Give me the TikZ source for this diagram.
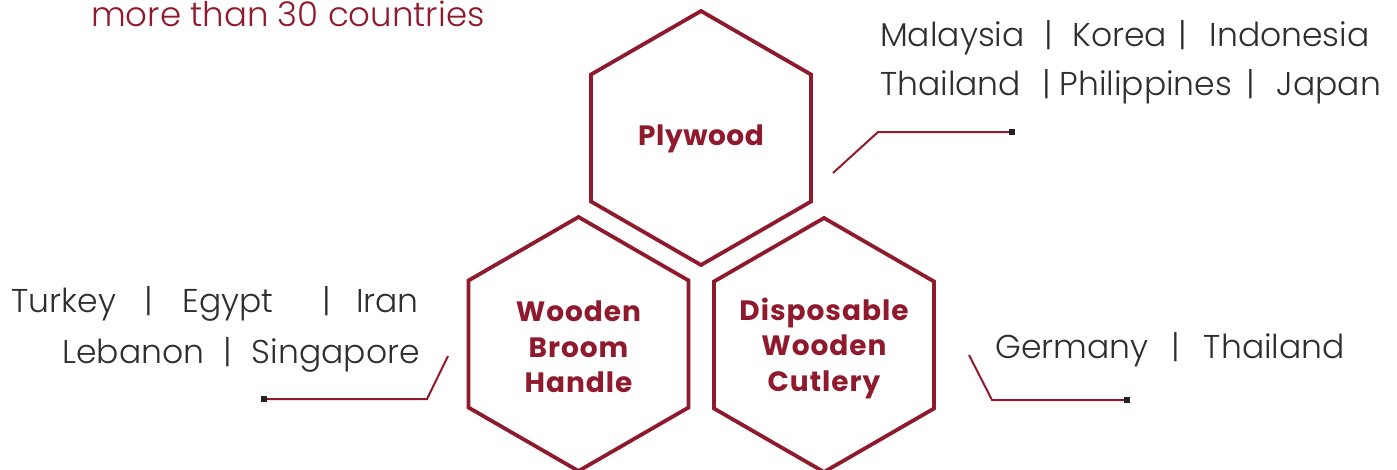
\documentclass[tikz,border=0pt]{standalone}
\usepackage{fontspec}
\IfFontExistsTF{Poppins Light}{\setmainfont{Poppins}[UprightFont={* Light},BoldFont={* Bold}]}{\setmainfont{Poppins}}
\usetikzlibrary{shapes.geometric}
\definecolor{wine}{HTML}{901A2D}
\definecolor{txtgray}{HTML}{2E2E2E}
\definecolor{sqcol}{HTML}{222222}
\newcommand{\barsep}[2]{\hspace{#1pt}|\hspace{#2pt}}
\begin{document}
\begin{tikzpicture}[x=1pt,y=-1pt,
  hex/.style={regular polygon, regular polygon sides=6, shape border rotate=30,
    minimum size=254pt, inner sep=0pt, draw=wine, line width=3.8pt},
  hexlabel/.style={text=wine, inner sep=0pt, align=center,
    font=\bfseries\fontsize{28}{35.5}\selectfont\addfontfeatures{LetterSpace=3.5}},
  country/.style={text=txtgray, font=\fontsize{33}{40}\selectfont, inner sep=0pt},
  conn/.style={draw=wine, line width=2pt},
  endsq/.style={rectangle, fill=sqcol, minimum size=6pt, inner sep=0pt}]
\useasboundingbox (0,0) rectangle (1397,469);
% headline
\node[anchor=base west, text=wine, font=\fontsize{34}{40}\selectfont, inner sep=0pt] (head) at (91,26) {more than 30 countries};
% hexagons
\node[hex] (ply) at (701,138) {};
\node[hex] (broom) at (578.5,344) {};
\node[hex] (cut) at (824,345) {};
\node[hexlabel, font=\bfseries\fontsize{28}{35.5}\selectfont\addfontfeatures{LetterSpace=2}] (plyt) at ([yshift=-1pt]ply.center) {Plywood};
\node[hexlabel] (broomt) at ([yshift=-3pt]broom.center) {Wooden\\Broom\\Handle};
\node[hexlabel] (cutt) at ([yshift=-3pt]cut.center) {Disposable\\Wooden\\Cutlery};
% country lists
\node[country, anchor=base west] (asia1) at (880,46) {Malaysia\barsep{19.5}{19.5}Korea\barsep{11.5}{22.5}Indonesia};
\node[country, anchor=base west] (asia2) at (880,95) {Thailand\barsep{21}{9}Philippines\barsep{14}{22}Japan};
\node[country, anchor=base east] (mid1) at (419,312) {Turkey\barsep{29}{29}Egypt\barsep{49}{25}Iran};
\node[country, anchor=base east] (mid2) at (420,363) {Lebanon\barsep{19}{20}Singapore};
\node[country, anchor=base west] (eu) at (995,358) {Germany\barsep{23.5}{23.5}Thailand};
% connectors
\coordinate (a0) at (833,173); \coordinate (a1) at (878,132);
\node[endsq] (a2) at (1012,132) {};
\draw[conn] (a0) -- (a1) -- (a2.center);
\node[endsq] at (a2) {};
\coordinate (b0) at (448,356); \coordinate (b1) at (427,399);
\node[endsq] (b2) at (264,399) {};
\draw[conn] (b0) -- (b1) -- (b2.center);
\node[endsq] at (b2) {};
\coordinate (c0) at (969,355); \coordinate (c1) at (992,400);
\node[endsq] (c2) at (1127,400) {};
\draw[conn] (c0) -- (c1) -- (c2.center);
\node[endsq] at (c2) {};
\end{tikzpicture}
\end{document}
